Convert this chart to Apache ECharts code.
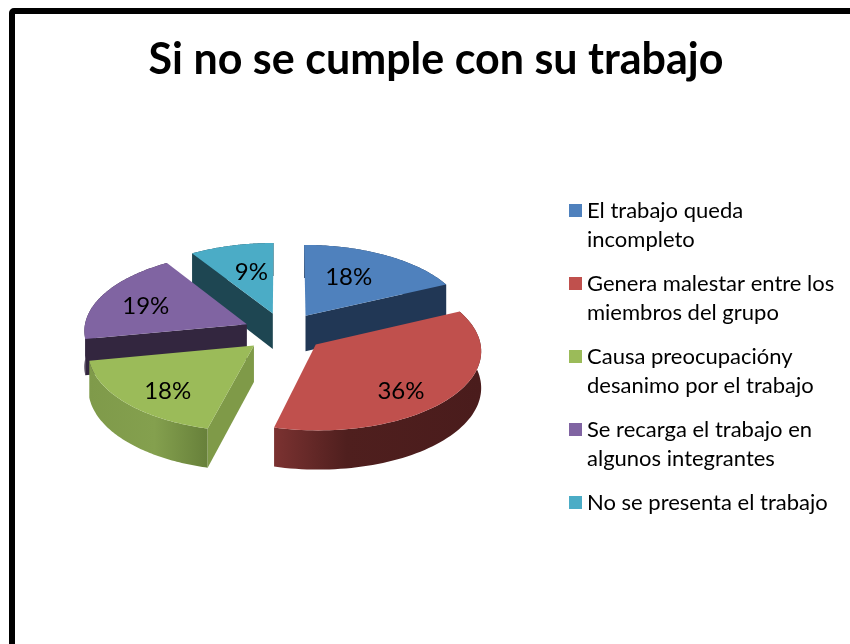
<!DOCTYPE html>
<html>
<head>
<meta charset="utf-8">
<style>html,body{margin:0;padding:0;background:#fff}#c{width:850px;height:644px}</style>
<script src="https://cdn.jsdelivr.net/npm/echarts@6/dist/echarts.min.js"></script>
</head>
<body>
<div id="c"></div>
<script>
// ---- data ----
const chartTitle = 'Si no se cumple con su trabajo';
const categories = ['El trabajo queda incompleto','Genera malestar entre los miembros del grupo','Causa preocupacióny desanimo por el trabajo','Se recarga el trabajo en algunos integrantes','No se presenta el trabajo'];
const legendLines = ['El trabajo queda\nincompleto','Genera malestar entre los\nmiembros del grupo','Causa preocupacióny\ndesanimo por el trabajo','Se recarga el trabajo en\nalgunos integrantes','No se presenta el trabajo\n '];
const values = [18,36,18,19,9];

// ---- styles ----
const topColors = ['#4F81BD','#C0504D','#9BBB59','#8064A2','#4BACC6'];
const radialColors = ['#213755','#4A1C1C','#7F9A48','#33263F','#1E4652'];
const wallStops = [
  [[0,'#213755'],[1,'#213755']],
  [[0,'#7B3231'],[0.35,'#4F1F1E'],[1,'#4A1C1C']],
  [[0,'#7F9A4A'],[0.55,'#84A04E'],[1,'#67803A']],
  [[0,'#33263F'],[1,'#33263F']],
  [[0,'#1E4652'],[1,'#1E4652']]
];
const zRank = [2,5,4,3,1];
const visibleRadial = ['end','none','start','start','start'];
const labelNudge = [[-6,-1],[6,15],[-11,12],[-14,0],[4,0]];
const fontFamily = 'Lato, Carlito, Calibri, sans-serif';

// ---- projection ----
const CX=284, CY=332, AX=163, AY=78, PERSP=0.07, EXPLODE=0.25, DEPTH=36;
const total = values.reduce(function(a,b){return a+b;},0);
const starts = values.map(function(v,i){return values.slice(0,i).reduce(function(a,b){return a+b;},0)/total*Math.PI*2;});
function proj(px,py,down){
  const s = 1/(1-PERSP*py);
  return [CX+AX*px*s, CY+AY*py*s+(down?DEPTH*s:0)];
}
function renderSlice(i){
  return function(params,api){
    const a0 = starts[i], a1 = a0+api.value(0)/total*Math.PI*2, mid=(a0+a1)/2;
    const ox = Math.sin(mid)*EXPLODE, oy = -Math.cos(mid)*EXPLODE;
    const pt = function(a,r,down){return proj(ox+Math.sin(a)*r,oy-Math.cos(a)*r,down);};
    const arcTop=[],arcBot=[];
    const n=72;
    for(let k=0;k<=n;k++){
      const a=a0+(a1-a0)*k/n;
      arcTop.push(pt(a,1,false)); arcBot.push(pt(a,1,true));
    }
    const xs=arcTop.map(function(p){return p[0];});
    const minX=Math.min.apply(null,xs), maxX=Math.max.apply(null,xs);
    const children=[];
    // outer wall
    children.push({type:'polygon',shape:{points:arcTop.concat(arcBot.slice().reverse())},
      style:{fill:new echarts.graphic.LinearGradient(minX,0,maxX,0,wallStops[i].map(function(s){return {offset:s[0],color:s[1]};}),true)}});
    // radial wall
    const side = visibleRadial[i];
    if(side!=='none'){
      const a = side==='start'?a0:a1;
      children.push({type:'polygon',shape:{points:[pt(a,0,false),pt(a,1,false),pt(a,1,true),pt(a,0,true)]},style:{fill:radialColors[i]}});
    }
    // top
    children.push({type:'polygon',shape:{points:[pt(0,0,false)].concat(arcTop)},style:{fill:topColors[i]}});
    // label
    const lp = pt(mid,0.6,false);
    children.push({type:'text',style:{text:api.value(0)+'%',x:lp[0]+labelNudge[i][0],y:lp[1]+labelNudge[i][1],
      fill:'#000',font:'24px '+fontFamily,textAlign:'center',textVerticalAlign:'middle'}});
    return {type:'group',children:children};
  };
}
const legendIcon='path://M0,8H13V21H0Z M0,0L0,0Z M0,58L0,58Z';

const chart = echarts.init(document.getElementById('c'),null,{renderer:'canvas'});
chart.setOption({
  animation:false,
  backgroundColor:'#fff',
  title:{text:chartTitle,left:431,top:34,textAlign:'center',
    textStyle:{color:'#000',fontFamily:fontFamily,fontWeight:'bold',fontSize:43}},
  legend:{orient:'vertical',left:564,top:191,itemWidth:13,itemHeight:58,itemGap:15,selectedMode:false,
    data:categories.map(function(c,i){return {name:c,icon:legendIcon,itemStyle:{color:topColors[i]}};}),
    formatter:function(name){return legendLines[categories.indexOf(name)];},
    textStyle:{color:'#000',fontFamily:fontFamily,fontSize:22,lineHeight:29}},
  graphic:[{type:'rect',z:100,silent:true,shape:{x:12,y:11,width:900,height:700,r:2},
    style:{fill:'none',stroke:'#000',lineWidth:6}}],
  series:categories.map(function(c,i){return {
    type:'custom',name:c,coordinateSystem:'none',silent:true,z:zRank[i]+2,
    itemStyle:{color:topColors[i]},
    data:[[values[i]]],
    renderItem:renderSlice(i)
  };})
});
</script>
</body>
</html>
